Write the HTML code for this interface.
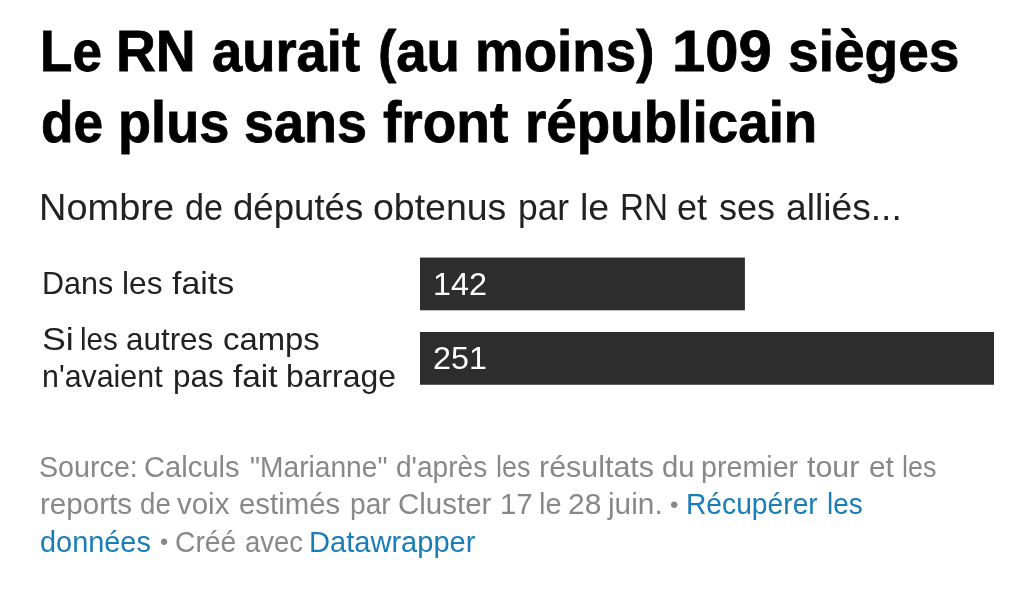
<!DOCTYPE html>
<html lang="fr"><head><meta charset="utf-8"><title>Le RN aurait (au moins) 109 sièges de plus sans front républicain</title>
<style>
html,body{margin:0;padding:0;background:#fff}
body{width:1024px;height:591px;position:relative;overflow:hidden;font-family:"Liberation Sans", Arial, sans-serif}
.l{position:absolute;left:0;top:0;margin:0;display:block}
h1,p{margin:0;font:inherit}
.l span,.l a{position:absolute;white-space:pre;line-height:1;transform-origin:0 0;text-decoration:none;color:inherit}
.bars{position:absolute;left:0;top:0;display:block}
</style></head>
<body>
<svg class="bars" width="1024" height="591" viewBox="0 0 1024 591"><rect x="420.0" y="257.55" width="324.90" height="52.75" fill="#2d2d2d"/><rect x="420.0" y="332.0" width="574.00" height="52.75" fill="#2d2d2d"/></svg>
<h1 class="headline">
<span class="l" id="t1" style="font-size:57.6px;font-weight:700;color:#000000;-webkit-text-stroke:0.8px #000000"><span style="left:40.17px;top:22.90px;transform:scaleX(0.9207)">Le</span> <span style="left:116.34px;top:22.90px;transform:scaleX(0.9582)">RN</span> <span style="left:212.41px;top:22.90px;transform:scaleX(0.9438)">aurait</span> <span style="left:378.27px;top:22.90px;transform:scaleX(0.9479)">(au</span> <span style="left:475.30px;top:22.90px;transform:scaleX(0.9502)">moins)</span> <span style="left:672.33px;top:22.90px;transform:scaleX(1.0382)">109</span> <span style="left:787.80px;top:22.90px;transform:scaleX(0.9562)">sièges</span></span>
<span class="l" id="t2" style="font-size:57.6px;font-weight:700;color:#000000;-webkit-text-stroke:0.8px #000000"><span style="left:40.67px;top:94.10px;transform:scaleX(0.9238)">de</span> <span style="left:118.14px;top:94.10px;transform:scaleX(0.9406)">plus</span> <span style="left:244.23px;top:94.10px;transform:scaleX(0.9366)">sans</span> <span style="left:383.35px;top:94.10px;transform:scaleX(0.9554)">front</span> <span style="left:524.50px;top:94.10px;transform:scaleX(0.9515)">républicain</span></span>
</h1>
<p class="description">
<span class="l" id="s1" style="font-size:37.3px;font-weight:400;color:#222222"><span style="left:39.47px;top:189.00px;transform:scaleX(1.0178)">Nombre</span> <span style="left:184.53px;top:189.00px;transform:scaleX(0.9149)">de</span> <span style="left:233.22px;top:189.00px;transform:scaleX(0.9813)">députés</span> <span style="left:373.28px;top:189.00px;transform:scaleX(1.0045)">obtenus</span> <span style="left:517.68px;top:189.00px;transform:scaleX(0.9480)">par</span> <span style="left:579.86px;top:189.00px;transform:scaleX(1.0063)">le</span> <span style="left:619.56px;top:189.00px;transform:scaleX(0.8893)">RN</span> <span style="left:676.74px;top:189.00px;transform:scaleX(0.9656)">et</span> <span style="left:719.17px;top:189.00px;transform:scaleX(0.9650)">ses</span> <span style="left:786.14px;top:189.00px;transform:scaleX(0.9972)">alliés...</span></span>
</p>
<div class="labels">
<span class="l" id="l1" style="font-size:32.0px;font-weight:400;color:#222222"><span style="left:42.00px;top:267.30px;transform:scaleX(0.9522)">Dans</span> <span style="left:121.59px;top:267.30px;transform:scaleX(0.9888)">les</span> <span style="left:172.11px;top:267.30px;transform:scaleX(1.0587)">faits</span></span>
<span class="l" id="l2" style="font-size:32.0px;font-weight:400;color:#222222"><span style="left:41.73px;top:322.60px;transform:scaleX(1.1171)">Si</span> <span style="left:79.99px;top:322.60px;transform:scaleX(0.9235)">les</span> <span style="left:126.30px;top:322.60px;transform:scaleX(0.9812)">autres</span> <span style="left:222.66px;top:322.60px;transform:scaleX(1.0252)">camps</span></span>
<span class="l" id="l3" style="font-size:32.0px;font-weight:400;color:#222222"><span style="left:42.44px;top:360.00px;transform:scaleX(0.9486)">n'avaient</span> <span style="left:173.23px;top:360.00px;transform:scaleX(0.9821)">pas</span> <span style="left:232.62px;top:360.00px;transform:scaleX(1.0444)">fait</span> <span style="left:285.69px;top:360.00px;transform:scaleX(0.9962)">barrage</span></span>
</div>
<div class="values">
<span class="l" id="v1" style="font-size:32.2px;font-weight:400;color:#ffffff"><span style="left:433.22px;top:267.90px;transform:scaleX(1.0053)">142</span></span>
<span class="l" id="v2" style="font-size:32.2px;font-weight:400;color:#ffffff"><span style="left:432.87px;top:342.00px;transform:scaleX(1.0025)">251</span></span>
</div>
<div class="footer">
<span class="l" id="f1" style="font-size:28.9px;font-weight:400;color:#888888"><span style="left:39.47px;top:453.40px;transform:scaleX(0.9923)">Source:</span> <span style="left:143.96px;top:453.40px;transform:scaleX(1.0101)">Calculs</span> <span style="left:249.56px;top:453.40px;transform:scaleX(0.9750)">"Marianne"</span> <span style="left:395.87px;top:453.40px;transform:scaleX(0.9719)">d'après</span> <span style="left:495.84px;top:453.40px;transform:scaleX(0.9308)">les</span> <span style="left:539.39px;top:453.40px;transform:scaleX(1.0528)">résultats</span> <span style="left:662.12px;top:453.40px;transform:scaleX(1.0128)">du</span> <span style="left:701.12px;top:453.40px;transform:scaleX(0.9918)">premier</span> <span style="left:807.23px;top:453.40px;transform:scaleX(1.0524)">tour</span> <span style="left:869.44px;top:453.40px;transform:scaleX(1.0321)">et</span> <span style="left:902.14px;top:453.40px;transform:scaleX(0.9308)">les</span></span>
<span class="l" id="f2" style="font-size:28.9px;font-weight:400;color:#888888"><span style="left:39.55px;top:490.40px;transform:scaleX(1.0248)">reports</span> <span style="left:139.99px;top:490.40px;transform:scaleX(0.9579)">de</span> <span style="left:177.41px;top:490.40px;transform:scaleX(1.0197)">voix</span> <span style="left:238.87px;top:490.40px;transform:scaleX(1.0160)">estimés</span> <span style="left:349.56px;top:490.40px;transform:scaleX(0.9725)">par</span> <span style="left:398.24px;top:490.40px;transform:scaleX(1.0204)">Cluster</span> <span style="left:500.44px;top:490.40px;transform:scaleX(1.0186)">17</span> <span style="left:539.49px;top:490.40px;transform:scaleX(1.0040)">le</span> <span style="left:568.18px;top:490.40px;transform:scaleX(1.0359)">28</span> <span style="left:608.01px;top:490.40px;transform:scaleX(1.0319)">juin.</span> <span style="left:669.95px;top:492.66px;transform:scaleX(1.0000);font-size:23.94px">•</span> <a href="#" style="left:686.47px;top:490.40px;transform:scaleX(0.9765);color:#187db8">Récupérer</a> <a href="#" style="left:827.37px;top:490.40px;transform:scaleX(0.9662);color:#187db8">les</a></span>
<span class="l" id="f3" style="font-size:28.9px;font-weight:400;color:#888888"><a href="#" style="left:39.73px;top:527.70px;transform:scaleX(1.0002);color:#187db8">données</a> <span style="left:159.88px;top:530.85px;transform:scaleX(1.0000);font-size:23.56px">•</span> <span style="left:174.91px;top:527.70px;transform:scaleX(0.9783)">Créé</span> <span style="left:244.56px;top:527.70px;transform:scaleX(0.9510)">avec</span> <a href="#" style="left:309.40px;top:527.70px;transform:scaleX(1.0063);color:#187db8">Datawrapper</a></span>
</div>
</body></html>
